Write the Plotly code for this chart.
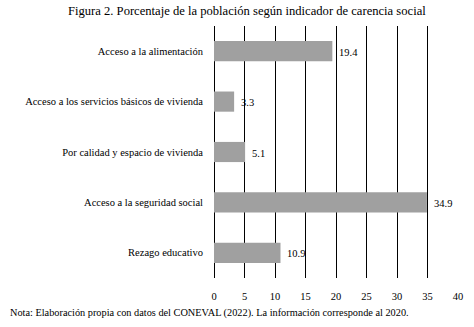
import plotly.graph_objects as go

categorias = [
    "Acceso a la alimentación",
    "Acceso a los servicios básicos de vivienda",
    "Por calidad y espacio de vivienda",
    "Acceso a la seguridad social",
    "Rezago educativo",
]
valores = [19.4, 3.3, 5.1, 34.9, 10.9]
ticks_x = [0, 5, 10, 15, 20, 25, 30, 35, 40]

titulo = "Figura 2. Porcentaje de la población según indicador de carencia social"
nota = "Nota: Elaboración propia con datos del CONEVAL (2022). La información corresponde al 2020."

FONT = "Liberation Serif"

L, R, T, B = 214, 11, 26, 49
PW, PH = 474 - L - R, 327 - T - B

fig = go.Figure(
    go.Bar(
        x=valores,
        y=categorias,
        orientation="h",
        marker=dict(color="#a0a0a0", line=dict(width=0)),
        hoverinfo="x+y",
    )
)

annotations = [
    dict(
        x=v,
        y=c,
        xref="x",
        yref="y",
        text=f"{v:.1f}",
        showarrow=False,
        xanchor="left",
        yanchor="middle",
        xshift=5,
        yshift=-1,
        font=dict(family=FONT, size=10.5, color="#000000"),
    )
    for c, v in zip(categorias, valores)
]
annotations.append(
    dict(
        text=nota,
        xref="paper",
        yref="paper",
        x=(4 - L) / PW,
        y=-(313 - (T + PH)) / PH,
        xanchor="left",
        yanchor="middle",
        showarrow=False,
        font=dict(family=FONT, size=10.3, color="#000000"),
    )
)
annotations.append(
    dict(
        text=titulo,
        xref="paper",
        yref="paper",
        x=(247.5 - L) / PW,
        y=1 + (T - 11) / PH,
        xanchor="center",
        yanchor="middle",
        showarrow=False,
        font=dict(family=FONT, size=12.6, color="#000000"),
    )
)

fig.update_layout(
    width=474,
    height=327,
    margin=dict(l=L, r=R, t=T, b=B),
    paper_bgcolor="white",
    plot_bgcolor="white",
    bargap=0.6,
    showlegend=False,
    font=dict(family=FONT, size=10.5, color="#000000"),
    annotations=annotations,
)

fig.update_xaxes(
    range=[0, 40],
    tickvals=ticks_x,
    showgrid=True,
    gridcolor="#000000",
    gridwidth=1,
    zeroline=True,
    zerolinecolor="#000000",
    zerolinewidth=1,
    showline=False,
    ticks="",
    ticklabelstandoff=10,
    tickfont=dict(family=FONT, size=10.5, color="#000000"),
    fixedrange=True,
)
fig.update_yaxes(
    autorange="reversed",
    showgrid=False,
    zeroline=False,
    showline=False,
    ticks="",
    ticklabelstandoff=10,
    tickfont=dict(family=FONT, size=10.5, color="#000000"),
    fixedrange=True,
)

fig.write_html("out.html")
